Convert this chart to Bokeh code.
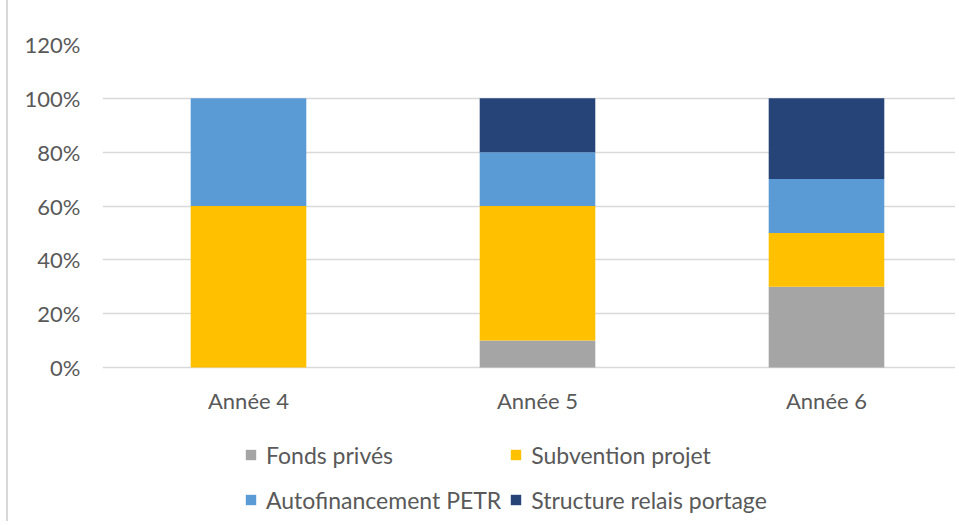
from bokeh.plotting import figure
from bokeh.models import (ColumnDataSource, Range1d, Legend, LegendItem, FixedTicker,
                          PrintfTickFormatter)
from bokeh.core.properties import value
from bokeh.embed import file_html
from bokeh.resources import INLINE

categories = ["Année 4", "Année 5", "Année 6"]
fonds_prives = [0, 10, 30]
subvention_projet = [60, 50, 20]
autofinancement_petr = [40, 20, 20]
structure_relais = [0, 20, 30]
series_labels = ["Fonds privés", "Subvention projet", "Autofinancement PETR", "Structure relais portage"]
series_colors = ["#A5A5A5", "#FFC000", "#5B9BD5", "#264478"]
y_ticks = [0, 20, 40, 60, 80, 100, 120]

FONT = "Lato"
FS = "22px"
LFS = "23px"
TXT = "#595959"
GRID = "#D9D9D9"

x_pos = list(range(len(categories)))
source = ColumnDataSource(dict(
    x=x_pos,
    s0=fonds_prives,
    s1=subvention_projet,
    s2=autofinancement_petr,
    s3=structure_relais,
))

# plot area runs down to the bottom so that the legend below the bars is not clipped
p = figure(width=955, height=521, output_backend="svg", toolbar_location=None,
           x_range=Range1d(-0.5052, 2.4464), y_range=Range1d(-57.2, 120),
           min_border_left=102, min_border_right=0, min_border_top=44, min_border_bottom=0)
p.outline_line_color = None
p.background_fill_color = "white"
p.border_fill_alpha = 0
p.styles = {"box-shadow": "inset 6px 0 0 0 white, inset 8px 0 0 0 #D9D9D9",
            "background-color": "white"}

renderers = p.vbar_stack(["s0", "s1", "s2", "s3"], x="x", width=0.4, source=source,
                         color=series_colors, line_color=None)

p.xgrid.grid_line_color = None
p.ygrid.grid_line_color = GRID
p.ygrid.grid_line_width = 1.3
p.ygrid.ticker = FixedTicker(ticks=y_ticks)

p.yaxis.ticker = FixedTicker(ticks=y_ticks)
p.yaxis.formatter = PrintfTickFormatter(format="%d%%")
p.yaxis.axis_line_color = None
p.yaxis.major_tick_line_color = None
p.yaxis.minor_tick_line_color = None
p.yaxis.major_tick_out = 0
p.yaxis.major_tick_in = 0
p.yaxis.minor_tick_out = 0
p.yaxis.major_label_standoff = 22
p.yaxis.major_label_text_font = FONT
p.yaxis.major_label_text_font_size = FS
p.yaxis.major_label_text_color = TXT

p.xaxis.visible = False

# category labels under the baseline
p.text(x=x_pos, y=[-12.3] * len(x_pos), text=categories, text_align="center",
       text_baseline="middle", text_font=value(FONT), text_font_size=FS, text_color=TXT)

items = [LegendItem(label=lab, renderers=[r]) for lab, r in zip(series_labels, renderers)]
legend = Legend(items=items, location=(142, 3), orientation="horizontal", ncols=2,
                label_text_font=FONT, label_text_font_size=LFS, label_text_color=TXT,
                glyph_width=13, glyph_height=13, label_standoff=9, label_height=37,
                spacing=8, padding=0, margin=0, border_line_color=None,
                background_fill_alpha=0)
p.add_layout(legend, "center")

open("out.html", "w").write(file_html(p, INLINE))
